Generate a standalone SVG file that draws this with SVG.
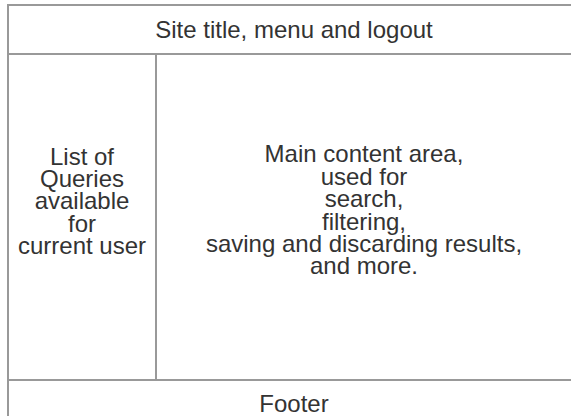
<svg xmlns="http://www.w3.org/2000/svg" width="571" height="416" viewBox="0 0 571 416">
<style>
.box{fill:#fff;stroke:#999;stroke-width:2}
.t{font-family:"Liberation Sans",Arial,sans-serif;font-size:24px;fill:#333;text-anchor:middle}
</style>
<rect width="571" height="416" fill="#fff"/>
<g id="header"><rect class="box" x="8" y="5" width="575" height="49"/><text class="t" x="294" y="38">Site title, menu and logout</text></g>
<g id="sidebar"><rect class="box" x="8" y="54" width="148" height="326"/>
<text class="t"><tspan x="82" y="165">List of</tspan><tspan x="82" y="187">Queries</tspan><tspan x="82" y="209">available</tspan><tspan x="82" y="232">for</tspan><tspan x="82" y="254">current user</tspan></text></g>
<g id="main"><rect class="box" x="156" y="54" width="427" height="326"/>
<text class="t"><tspan x="364" y="162">Main content area,</tspan><tspan x="364" y="185">used for</tspan><tspan x="364" y="207">search,</tspan><tspan x="364" y="230">filtering,</tspan><tspan x="364" y="252">saving and discarding results,</tspan><tspan x="364" y="274">and more.</tspan></text></g>
<g id="footer"><rect class="box" x="8" y="380" width="575" height="50"/><text class="t" x="294" y="412">Footer</text></g>
<g id="connectors"/>
</svg>
